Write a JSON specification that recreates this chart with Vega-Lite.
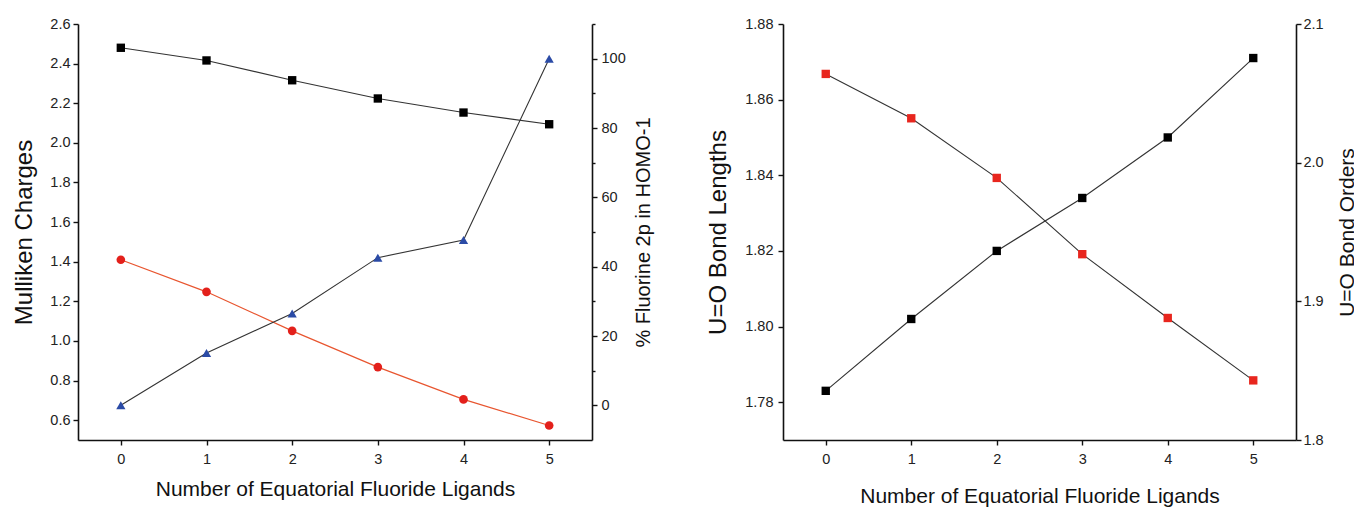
{
  "$schema": "https://vega.github.io/schema/vega-lite/v6.json",
  "padding": {"left": 12, "top": 16, "right": 0, "bottom": 0},
  "bounds": "flush",
  "spacing": 191,
  "datasets": {
    "left": [
      {"n": 0, "black": 2.48, "red": 1.41, "blue": 0},
      {"n": 1, "black": 2.416, "red": 1.248, "blue": 15.1},
      {"n": 2, "black": 2.316, "red": 1.051, "blue": 26.5},
      {"n": 3, "black": 2.224, "red": 0.868, "blue": 42.6},
      {"n": 4, "black": 2.153, "red": 0.705, "blue": 47.7},
      {"n": 5, "black": 2.094, "red": 0.573, "blue": 100}
    ],
    "right": [
      {"n": 0, "len": 1.783, "order": 2.064},
      {"n": 1, "len": 1.802, "order": 2.032},
      {"n": 2, "len": 1.82, "order": 1.989},
      {"n": 3, "len": 1.834, "order": 1.934},
      {"n": 4, "len": 1.85, "order": 1.888},
      {"n": 5, "len": 1.871, "order": 1.843}
    ]
  },
  "hconcat": [
    {
      "width": 514,
      "height": 416,
      "data": {"name": "left"},
      "encoding": {
        "x": {
          "field": "n", "type": "quantitative",
          "scale": {"domain": [-0.5, 5.5], "nice": false, "zero": false},
          "axis": {"values": [0, 1, 2, 3, 4, 5], "title": "Number of Equatorial Fluoride Ligands", "tickSize": 5, "labelPadding": 7, "titlePadding": 13}
        }
      },
      "layer": [
        {
          "encoding": {
            "y": {
              "type": "quantitative",
              "scale": {"domain": [0.5, 2.6], "nice": false, "zero": false},
              "axis": {"orient": "left", "values": [0.6, 0.8, 1.0, 1.2, 1.4, 1.6, 1.8, 2.0, 2.2, 2.4, 2.6], "format": ".1f", "title": "Mulliken Charges", "titleFontSize": 24, "tickSize": 5, "labelPadding": 3, "titlePadding": 13}
            }
          },
          "layer": [
            {"mark": {"type": "line", "color": "#333333", "strokeWidth": 1.1}, "encoding": {"y": {"field": "black", "type": "quantitative"}}},
            {"mark": {"type": "point", "shape": "square", "filled": true, "color": "#000000", "size": 70, "opacity": 1}, "encoding": {"y": {"field": "black", "type": "quantitative"}}},
            {"mark": {"type": "line", "color": "#e8552f", "strokeWidth": 1.2}, "encoding": {"y": {"field": "red", "type": "quantitative"}}},
            {"mark": {"type": "point", "shape": "circle", "filled": true, "color": "#e3201b", "size": 75, "opacity": 1}, "encoding": {"y": {"field": "red", "type": "quantitative"}}}
          ]
        },
        {
          "encoding": {
            "y": {
              "field": "blue", "type": "quantitative",
              "scale": {"domain": [-10, 110], "nice": false, "zero": false},
              "axis": {
                "orient": "right",
                "values": [0, 10, 20, 30, 40, 50, 60, 70, 80, 90, 100, 110],
                "labelExpr": "datum.value % 20 === 0 && datum.value <= 100 ? datum.label : ''",
                "tickSize": {"condition": {"test": "datum.value % 20 !== 0", "value": 3}, "value": 5},
                "title": "% Fluorine 2p in HOMO-1",
                "titleFontSize": 20,
                "titleAngle": 270,
                "titleBaseline": "top",
                "labelPadding": 4,
                "titlePadding": 8
              }
            }
          },
          "layer": [
            {"mark": {"type": "line", "color": "#333333", "strokeWidth": 1.1}},
            {"mark": {"type": "point", "shape": "triangle-up", "filled": true, "color": "#2b4ba6", "size": 85, "opacity": 1}}
          ]
        }
      ],
      "resolve": {"scale": {"y": "independent"}}
    },
    {
      "width": 513,
      "height": 416,
      "data": {"name": "right"},
      "encoding": {
        "x": {
          "field": "n", "type": "quantitative",
          "scale": {"domain": [-0.5, 5.5], "nice": false, "zero": false},
          "axis": {"values": [0, 1, 2, 3, 4, 5], "title": "Number of Equatorial Fluoride Ligands", "tickSize": 5, "labelPadding": 7, "titlePadding": 20}
        }
      },
      "layer": [
        {
          "encoding": {
            "y": {
              "field": "len", "type": "quantitative",
              "scale": {"domain": [1.77, 1.88], "nice": false, "zero": false},
              "axis": {"orient": "left", "values": [1.78, 1.8, 1.82, 1.84, 1.86, 1.88], "format": ".2f", "title": "U=O Bond Lengths", "titleFontSize": 24, "tickSize": 5, "labelPadding": 5, "titlePadding": 14}
            }
          },
          "layer": [
            {"mark": {"type": "line", "color": "#333333", "strokeWidth": 1.1}},
            {"mark": {"type": "point", "shape": "square", "filled": true, "color": "#000000", "size": 70, "opacity": 1}}
          ]
        },
        {
          "encoding": {
            "y": {
              "field": "order", "type": "quantitative",
              "scale": {"domain": [1.8, 2.1], "nice": false, "zero": false},
              "axis": {"orient": "right", "values": [1.8, 1.9, 2.0, 2.1], "format": ".1f", "title": "U=O Bond Orders", "titleAngle": 270, "titleBaseline": "top", "tickSize": 5, "labelPadding": 2, "titlePadding": 13}
            }
          },
          "layer": [
            {"mark": {"type": "line", "color": "#333333", "strokeWidth": 1.1}},
            {"mark": {"type": "point", "shape": "square", "filled": true, "color": "#e8261e", "size": 70, "opacity": 1}}
          ]
        }
      ],
      "resolve": {"scale": {"y": "independent"}}
    }
  ],
  "config": {
    "view": {"stroke": null},
    "axis": {
      "grid": false,
      "domainColor": "#111111",
      "domainWidth": 1.6,
      "tickColor": "#111111",
      "tickWidth": 1.4,
      "labelFont": "Liberation Sans",
      "titleFont": "Liberation Sans",
      "labelFontSize": 14.5,
      "labelColor": "#222222",
      "titleFontSize": 21,
      "titleFontWeight": "normal",
      "titleColor": "#111111"
    }
  }
}
